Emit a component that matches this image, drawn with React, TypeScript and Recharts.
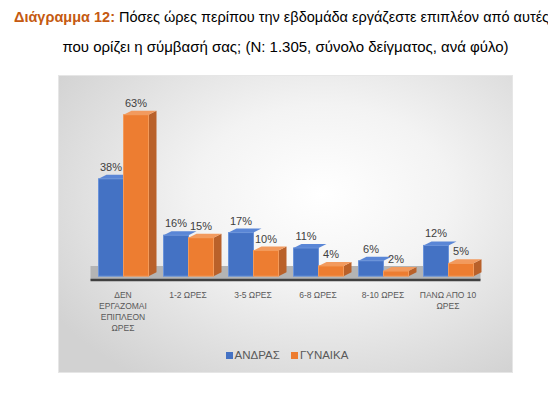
import { BarChart, Bar, XAxis, YAxis, CartesianGrid, Legend, LabelList, ReferenceArea } from "recharts";

const categories = ["ΔΕΝ ΕΡΓΑΖΟΜΑΙ ΕΠΙΠΛΕΟΝ ΩΡΕΣ", "1-2 ΩΡΕΣ", "3-5 ΩΡΕΣ", "6-8 ΩΡΕΣ", "8-10 ΩΡΕΣ", "ΠΑΝΩ ΑΠΟ 10 ΩΡΕΣ"];
const tickLines = [["ΔΕΝ", "ΕΡΓΑΖΟΜΑΙ", "ΕΠΙΠΛΕΟΝ", "ΩΡΕΣ"], ["1-2 ΩΡΕΣ"], ["3-5 ΩΡΕΣ"], ["6-8 ΩΡΕΣ"], ["8-10 ΩΡΕΣ"], ["ΠΑΝΩ ΑΠΟ 10", "ΩΡΕΣ"]];
const men = [38, 16, 17, 11, 6, 12];
const women = [63, 15, 10, 4, 2, 5];
const gridTicks = [10, 20, 30, 40, 50, 60, 70];

const data = categories.map((name, i) => ({ name, men: men[i], women: women[i] }));

const FONT = "'Liberation Sans', Arial, sans-serif";

const makeShape = (front: string, side: string | null, top: string, edge: string) => (props: any) => {
  const { x, y, width, height } = props;
  if (height == null || width == null) return null;
  const d = 8;
  const dy = 4;
  return (
    <g>
      {side && (
        <polygon points={`${x + width},${y} ${x + width + d},${y - dy} ${x + width + d},${y + height - dy} ${x + width},${y + height}`} fill={side} />
      )}
      <polygon points={`${x},${y} ${x + d},${y - dy} ${x + width + d},${y - dy} ${x + width},${y}`} fill={top} />
      <rect x={x} y={y} width={width} height={height} fill={front} stroke={edge} strokeWidth={1} />
    </g>
  );
};

// the blue side face is hidden behind the orange bar standing next to it
const blueShape = makeShape("#4472C4", null, "#5A86D6", "#6A93DA");
const orangeShape = makeShape("#ED7D31", "#B9612A", "#F29A5E", "#F39A5A");

const CategoryTick = (props: any) => {
  const { x, y, index } = props;
  const lines = tickLines[index] || [];
  return (
    <text x={x} y={y + 10} textAnchor="middle" fontSize={8.5} fill="#595959" fontFamily={FONT}>
      {lines.map((l, i) => (
        <tspan key={i} x={x} dy={i === 0 ? 0 : 11}>{l}</tspan>
      ))}
    </text>
  );
};

const LegendContent = (props: any) => {
  const { payload = [] } = props;
  return (
    <div style={{ display: "flex", justifyContent: "center", alignItems: "center", height: 20, fontSize: 11.5, fontFamily: FONT, color: "#595959", paddingLeft: 3 }}>
      {payload.map((p: any, i: number) => (
        <span key={i} style={{ display: "flex", alignItems: "center", marginRight: i === 0 ? 11 : 0 }}>
          <span style={{ display: "inline-block", width: 7, height: 7, background: p.color, marginRight: 2 }} />
          {p.value}
        </span>
      ))}
    </div>
  );
};

const App = () => {
  return (
    <div style={{ position: "absolute", left: 0, top: 0, width: 548, height: 393, overflow: "hidden", background: "#fff", fontFamily: FONT }}>
      <div style={{ position: "absolute", left: 14, top: 9, whiteSpace: "nowrap", fontSize: 14.5, color: "#000" }}>
        <span style={{ color: "#C55A11", fontWeight: "bold" }}>Διάγραμμα 12:</span> Πόσες ώρες περίπου την εβδομάδα εργάζεστε επιπλέον από αυτές
      </div>
      <div style={{ position: "absolute", left: 0, width: 571, top: 38, textAlign: "center", whiteSpace: "nowrap", fontSize: 15, color: "#000" }}>
        που ορίζει η σύμβασή σας; (N: 1.305, σύνολο δείγματος, ανά φύλο)
      </div>
      <div
        style={{
          position: "absolute",
          left: 58,
          top: 75,
          width: 455,
          height: 298,
          background: "radial-gradient(ellipse 70% 75% at 58% 40%, #ffffff 0%, #f3f3f3 40%, #d2d2d2 100%)",
          boxShadow: "inset 0 0 0 1px #e6e6e6",
        }}
      >
        <BarChart
          width={455}
          height={298}
          data={data}
          margin={{ top: 21.8, right: 32.5, left: 32.5, bottom: 8 }}
          barSize={25}
          barGap={0}
        >
          <YAxis hide domain={[-1.5, 70]} />
          <YAxis yAxisId="grid" hide domain={[-1.7, 73.9]} ticks={gridTicks} />
          <CartesianGrid yAxisId="grid" vertical={false} horizontalValues={gridTicks} stroke="#d9d9d9" />
          <ReferenceArea y1={-1.5} y2={4} fill="#b4b4b4" fillOpacity={1} stroke="none" />
          <XAxis
            dataKey="name"
            height={65}
            tickLine={false}
            axisLine={{ stroke: "#404040", strokeWidth: 2.5 }}
            tick={<CategoryTick />}
            interval={0}
          />
          <Legend verticalAlign="bottom" align="center" wrapperStyle={{ height: 20 }} content={<LegendContent />} />
          <Bar dataKey="men" name="ΑΝΔΡΑΣ" fill="#4472C4" shape={blueShape} isAnimationActive={false}>
            <LabelList dataKey="men" position="top" offset={8} formatter={(v: any) => `${v}%`} style={{ fontSize: 11, fill: "#404040", fontFamily: FONT }} />
          </Bar>
          <Bar dataKey="women" name="ΓΥΝΑΙΚΑ" fill="#ED7D31" shape={orangeShape} isAnimationActive={false}>
            <LabelList dataKey="women" position="top" offset={8} formatter={(v: any) => `${v}%`} style={{ fontSize: 11, fill: "#404040", fontFamily: FONT }} />
          </Bar>
        </BarChart>
      </div>
    </div>
  );
};

export default App;
